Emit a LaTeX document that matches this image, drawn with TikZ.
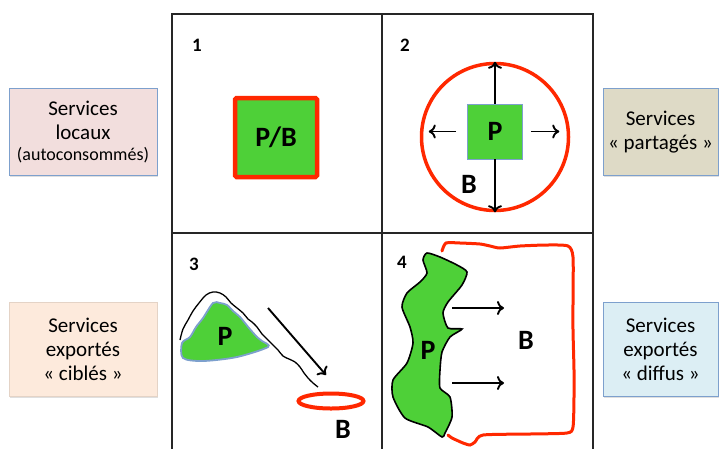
\documentclass[tikz,border=0pt]{standalone}
\usepackage{fontspec}
\setmainfont{Carlito}
\usetikzlibrary{arrows.meta,shadows,shapes.geometric}
\definecolor{pgreen}{RGB}{78,208,56}
\definecolor{bred}{RGB}{255,40,0}
\definecolor{edgeblue}{RGB}{125,160,205}
\definecolor{fillpink}{RGB}{242,222,221}
\definecolor{filltan}{RGB}{222,218,198}
\definecolor{fillpeach}{RGB}{253,234,220}
\definecolor{fillsky}{RGB}{220,238,244}

\tikzset{
  sidebox/.style={draw=edgeblue, line width=0.8pt, minimum height=87, align=center,
    font=\fontsize{21}{24}\selectfont,
    drop shadow={opacity=0.25, shadow xshift=1pt, shadow yshift=-1.5pt}},
  numlab/.style={font=\fontsize{19}{19}\selectfont\bfseries},
  biglab/.style={font=\fontsize{28}{28}\selectfont\bfseries},
  arr/.style={line width=1.9pt, -{To[length=7pt,width=14pt]}},
  grid/.style={line width=1.4pt, black!85}
}

\begin{document}
\begin{tikzpicture}[x=1pt,y=-1pt]
\useasboundingbox (0,0) rectangle (722,448);

% the four cells
\draw[grid] (172,460) -- (172,14) -- (593,14) -- (593,460);
\draw[grid] (382,14) -- (382,460);
\draw[grid] (172,233) -- (593,233);

% labels beside the cells
\node[sidebox, fill=fillpink, minimum width=148] (loc) at (83,132)
  {Services\\locaux\\[-3pt]{\fontsize{18}{20}\selectfont(autoconsommés)}};
\node[sidebox, fill=filltan, minimum width=115] (par) at (660.5,132)
  {Services\\« partagés »};
\node[sidebox, fill=fillpeach, draw=fillpeach!90!black, minimum width=148, minimum height=94] (cib) at (83,349)
  {Services\\exportés\\« ciblés »};
\node[sidebox, fill=fillsky, minimum width=115, minimum height=94] (dif) at (660.5,349)
  {Services\\exportés\\« diffus »};

% cell 1
\node[numlab] (n1) at (197,45) {1};
\node[biglab, fill=pgreen, draw=bred, line width=4.5pt, rounded corners=1.5pt,
  minimum width=82, minimum height=79,
  drop shadow={opacity=0.25, shadow xshift=1pt, shadow yshift=-1.5pt}] (pb) at (276,137.5) {P/B};

% cell 2
\node[numlab] (n2) at (405,45) {2};
\node[circle, draw=bred, line width=3.5pt, minimum size=147] (b2) at (495,137) {};
\node[biglab, fill=pgreen, draw=edgeblue, line width=0.6pt, minimum size=55] (p2) at (495,131.5) {P};
\draw[arr] (p2.north) -- (b2.north);
\draw[arr] (p2.south) -- (b2.south);
\draw[arr, shorten <=11pt, shorten >=9pt] (p2.west) -- (p2.west -| b2.west);
\draw[arr, shorten <=8pt, shorten >=11pt] (p2.east) -- (p2.east -| b2.east);
\node[biglab] (lb2) at (469,184) {B};

% cell 3
\node[numlab] (n3) at (194,264) {3};
\fill[pgreen] plot[smooth cycle, tension=0.5] coordinates {
  (182,343) (183,358) (203,361) (237,357) (268,347) (262,341) (257,337)
  (249,328) (240,317) (233,311) (227,305) (220,303) (213,303) (203,318) (196,327) (190,337)};
\draw[edgeblue, line width=1.8pt] plot[smooth cycle, tension=0.5] coordinates {
  (182,343) (183,358) (203,361) (237,357) (268,347) (262,341) (257,337)
  (249,328) (240,317) (233,311) (227,305) (220,303) (213,303) (203,318) (196,327) (190,337)};
\draw[line width=1.3pt] plot[smooth, tension=0.6] coordinates {
  (180,340) (183,329) (188,320) (193,311) (199,303) (206,295) (213,292)
  (220,293) (226,297) (231,303) (237,308) (243,313) (248,319) (252,322)
  (257,327) (262,334) (266,338) (272,344) (278,350) (283,356) (289,359)
  (295,362) (300,367) (304,373) (308,378) (313,383) (318,387)};
\node[biglab] (p3) at (225,336) {P};
\node[draw=bred, line width=4pt, ellipse, minimum width=65, minimum height=15] (b3) at (331,401) {};
\coordinate (s3) at (268,308);
\coordinate (e3) at (326,375);
\draw[arr] (s3) -- (e3);
\node[biglab] (lb3) at (343,429) {B};

% cell 4
\node[numlab] (n4) at (402,262) {4};
\draw[bred, line width=3pt, line cap=round] plot[smooth, tension=0.4] coordinates {
  (442,251) (446,243) (460,243) (480,244) (490,246) (500,248) (520,246)
  (547,245) (568,246) (573,257) (573,300) (573,330) (574,370) (574,397)
  (573,427) (567,433) (530,434) (483,435) (475,442) (470,445) (463,443)
  (452,438) (448,435)};
\filldraw[fill=pgreen, draw=black, line width=1.6pt] plot[smooth cycle, tension=0.4] coordinates {
  (427,253) (440,257) (457,265) (467,272) (462,285) (448,302) (443,313)
  (448,328) (462,329) (450,337) (442,352) (440,370) (440,388) (450,397)
  (452,417) (445,433) (442,437) (428,427) (405,418) (393,397) (393,380)
  (407,363) (413,343) (410,327) (402,307) (407,293) (420,282) (427,273) (423,260)};
\node[biglab] (p4) at (428,350) {P};
\node[biglab] (lb4) at (526,340) {B};
\coordinate (u4) at (452,308);
\coordinate (d4) at (452,383);
\draw[arr] (u4) -- ++(52,0);
\draw[arr] (d4) -- ++(52,0);
\end{tikzpicture}
\end{document}
